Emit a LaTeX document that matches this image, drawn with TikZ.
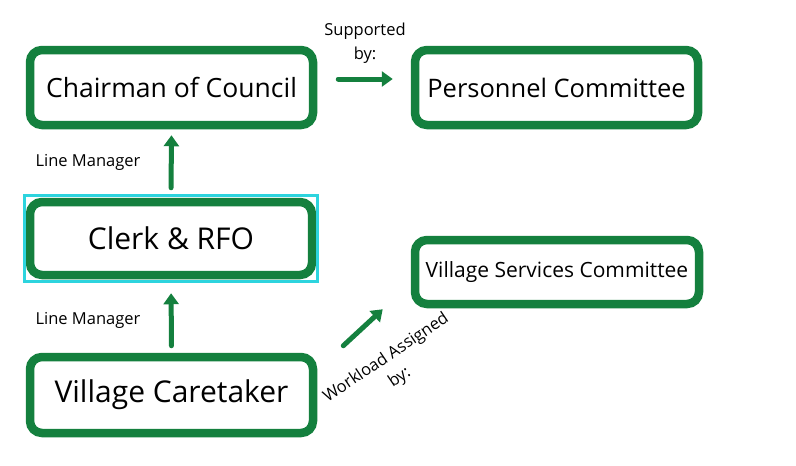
\documentclass[tikz,border=0pt]{standalone}
\usepackage{fontspec}
\setmainfont{Open Sans}
\usetikzlibrary{arrows.meta}
\definecolor{boxgreen}{RGB}{20,128,62}
\definecolor{selcyan}{RGB}{45,212,222}

\begin{document}
\begin{tikzpicture}[x=1pt,y=-1pt,
	role/.style={draw=boxgreen, line width=8.5pt, rounded corners=12pt, fill=white, minimum width=283pt, minimum height=75pt, inner sep=0pt},
	link/.style={draw=boxgreen, line width=5pt, line cap=round, -{Triangle[length=11pt,width=15pt]}},
	note/.style={font=\fontsize{16.5}{24}\selectfont, align=center}]
		\useasboundingbox (0,0) rectangle (796,466);
		\node[role, font=\fontsize{26.5}{30}\selectfont](chair) at (171.5,87.5) {Chairman of Council};
		\node[role, font=\fontsize{25.5}{30}\selectfont](pers) at (556.5,87.5) {Personnel Committee};
		\node[role, minimum width=282pt, minimum height=73pt, font=\fontsize{30}{34}\selectfont](clerk) at (171,238.5) {Clerk \& RFO};
		\node[role, minimum height=76pt, font=\fontsize{30}{34}\selectfont](care) at (171.5,395) {Village Caretaker};
		\node[role, minimum width=284pt, minimum height=64pt, font=\fontsize{21}{24}\selectfont](serv) at (557,272) {Village Services Committee};
		\draw[selcyan, line width=3pt] ([shift={(-1.5,-2.5)}]clerk.north west) rectangle ([shift={(1.5,2.5)}]clerk.south east);
		\draw[link, shorten <=10pt, shorten >=6pt] (clerk.north) -- (chair.south);
		\draw[link, shorten <=7pt, shorten >=14pt] (care.north) -- (clerk.south);
		\draw[link] ([shift={(21,-8.5)}]chair.east) -- ([shift={(-18,-8.5)}]pers.west);
		\draw[link] ([shift={(26,-7)}]care.north east) -- ([shift={(-28,1)}]serv.south west);
		\node[note](lm1) at (88,162) {Line Manager};
		\node[note](lm2) at (88,320) {Line Manager};
		\node[note](sup) at (365,43) {Supported\\by:};
		\node[note, rotate=34](work) at (393,368) {Workload Assigned\\by:};
\end{tikzpicture}
\end{document}
